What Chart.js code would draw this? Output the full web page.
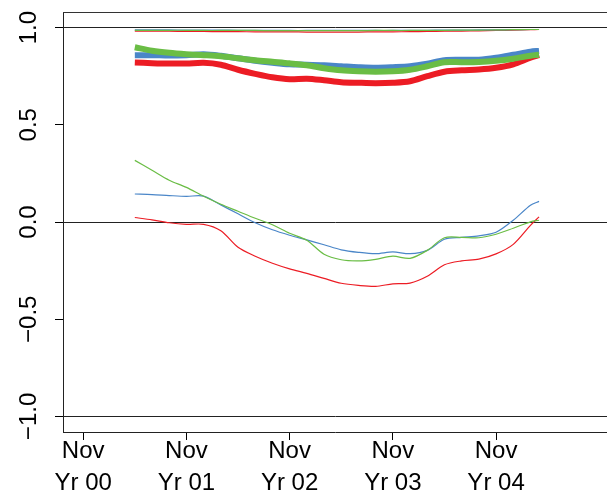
<!DOCTYPE html>
<html>
<head>
<meta charset="utf-8">
<script src="https://cdn.jsdelivr.net/npm/chart.js@4.4.1/dist/chart.umd.min.js"></script>
<style>
  html, body { margin: 0; padding: 0; background: #fff; }
  #chart { display: block; }
</style>
</head>
<body>
<canvas id="chart" width="607" height="492"></canvas>
<script>
// months since Nov Yr 00
const months = [6, 8, 10, 12, 14, 16, 18, 20, 22, 24, 26, 28, 30, 32, 34, 36, 38, 40, 42, 44, 46, 48, 50, 52, 53];

const topBlue  = [0.988, 0.988, 0.988, 0.987, 0.987, 0.987, 0.986, 0.986, 0.986, 0.985, 0.985, 0.985, 0.985, 0.985, 0.985, 0.985, 0.986, 0.986, 0.987, 0.987, 0.988, 0.988, 0.989, 0.990, 0.990];
const topGreen = [0.986, 0.986, 0.986, 0.986, 0.985, 0.985, 0.985, 0.985, 0.984, 0.984, 0.984, 0.984, 0.984, 0.984, 0.985, 0.985, 0.985, 0.986, 0.986, 0.987, 0.987, 0.988, 0.989, 0.990, 0.990];
const topRed   = [0.982, 0.981, 0.981, 0.980, 0.980, 0.979, 0.979, 0.978, 0.978, 0.978, 0.977, 0.977, 0.977, 0.977, 0.978, 0.978, 0.979, 0.980, 0.981, 0.982, 0.983, 0.985, 0.987, 0.989, 0.990];

const thickBlue  = [0.858, 0.858, 0.856, 0.858, 0.863, 0.855, 0.842, 0.829, 0.819, 0.811, 0.809, 0.806, 0.801, 0.796, 0.793, 0.796, 0.801, 0.814, 0.832, 0.834, 0.835, 0.845, 0.860, 0.876, 0.880];
const thickGreen = [0.899, 0.881, 0.870, 0.863, 0.858, 0.852, 0.842, 0.832, 0.824, 0.816, 0.806, 0.791, 0.780, 0.775, 0.773, 0.775, 0.783, 0.801, 0.822, 0.822, 0.823, 0.829, 0.840, 0.855, 0.860];
const thickRed   = [0.820, 0.817, 0.815, 0.815, 0.819, 0.809, 0.783, 0.762, 0.744, 0.734, 0.737, 0.729, 0.719, 0.716, 0.714, 0.716, 0.724, 0.750, 0.773, 0.780, 0.784, 0.793, 0.811, 0.845, 0.858];

const lowBlue  = [0.144, 0.141, 0.136, 0.132, 0.133, 0.088, 0.042, -0.004, -0.040, -0.068, -0.092, -0.117, -0.143, -0.156, -0.163, -0.154, -0.163, -0.146, -0.089, -0.079, -0.071, -0.053, 0.009, 0.086, 0.106];
const lowGreen = [0.317, 0.266, 0.215, 0.178, 0.132, 0.091, 0.055, 0.019, -0.014, -0.058, -0.094, -0.166, -0.194, -0.200, -0.192, -0.176, -0.187, -0.146, -0.081, -0.079, -0.081, -0.063, -0.032, 0.001, 0.009];
const lowRed   = [0.023, 0.011, -0.004, -0.012, -0.012, -0.045, -0.130, -0.176, -0.212, -0.241, -0.264, -0.290, -0.315, -0.326, -0.331, -0.318, -0.314, -0.279, -0.220, -0.200, -0.191, -0.164, -0.115, -0.017, 0.026];

const xTickValues = [0, 12, 24, 36, 48];
const xTickLabels = [["Nov", "Yr 00"], ["Nov", "Yr 01"], ["Nov", "Yr 02"], ["Nov", "Yr 03"], ["Nov", "Yr 04"]];
const yTickValues = [-1, -0.5, 0, 0.5, 1];
const yTickLabels = ["\u22121.0", "\u22120.5", "0.0", "0.5", "1.0"];

const RED = "#ec1c24";
const GREEN = "#6abd45";
const BLUE = "#4a86c8";
const FONT = "'Liberation Sans', Arial, Helvetica, sans-serif";

function serie(values, color, width, order) {
  return {
    data: months.map((m, i) => ({ x: m, y: values[i] })),
    borderColor: color,
    borderWidth: width,
    pointRadius: 0,
    tension: 0.3,
    fill: false,
    order: order
  };
}

// moldura (topo) e rótulos dos eixos, no estilo do R
const framePlugin = {
  id: "frame",
  afterDraw(chart) {
    const { ctx, chartArea } = chart;
    const xScale = chart.scales.x;
    const yScale = chart.scales.y;
    ctx.save();
    ctx.strokeStyle = "#333";
    ctx.lineWidth = 1;
    ctx.beginPath();
    ctx.moveTo(chartArea.left, Math.round(chartArea.top) + 0.5);
    ctx.lineTo(chartArea.right, Math.round(chartArea.top) + 0.5);
    ctx.stroke();

    ctx.fillStyle = "#000";
    ctx.font = "24px " + FONT;
    ctx.textAlign = "center";
    ctx.textBaseline = "alphabetic";

    // eixo y: rótulos girados
    yTickValues.forEach((v, i) => {
      ctx.save();
      ctx.translate(36, yScale.getPixelForValue(v));
      ctx.rotate(-Math.PI / 2);
      ctx.fillText(yTickLabels[i], 0, 0);
      ctx.restore();
    });

    // eixo x: duas linhas por marca
    const base = chartArea.bottom;
    xTickValues.forEach((v, i) => {
      const px = xScale.getPixelForValue(v);
      ctx.fillText(xTickLabels[i][0], px, base + 26);
      ctx.fillText(xTickLabels[i][1], px, base + 57.5);
    });
    ctx.restore();
  }
};

new Chart(document.getElementById("chart"), {
  type: "line",
  data: {
    datasets: [
      serie(lowRed, RED, 1.2, 9),
      serie(lowBlue, BLUE, 1.2, 8),
      serie(lowGreen, GREEN, 1.2, 7),
      serie(thickRed, RED, 6, 6),
      serie(thickBlue, BLUE, 6, 5),
      serie(thickGreen, GREEN, 6, 4),
      serie(topRed, RED, 1.2, 3),
      serie(topBlue, BLUE, 1.2, 2),
      serie(topGreen, GREEN, 1.2, 1)
    ]
  },
  options: {
    responsive: false,
    animation: false,
    layout: { padding: { top: 12, left: 0, right: 0, bottom: 0 } },
    plugins: {
      legend: { display: false },
      tooltip: { enabled: false }
    },
    scales: {
      x: {
        type: "linear",
        min: -2.35,
        max: 60.9,
        afterBuildTicks: (scale) => { scale.ticks = xTickValues.map(v => ({ value: v })); },
        afterFit: (scale) => { scale.height = 60; },
        grid: { drawOnChartArea: false, drawTicks: true, tickLength: 8, tickColor: "#000" },
        border: { display: true, color: "#222", width: 1 },
        ticks: { display: false }
      },
      y: {
        type: "linear",
        min: -1.08,
        max: 1.08,
        afterBuildTicks: (scale) => { scale.ticks = yTickValues.map(v => ({ value: v })); },
        afterFit: (scale) => { scale.width = 63; },
        grid: {
          drawTicks: true,
          tickLength: 8,
          tickColor: "#000",
          color: (c) => (c.tick && Math.abs(c.tick.value % 1) < 1e-9) ? "#222" : "rgba(0,0,0,0)",
          lineWidth: 1
        },
        border: { display: true, color: "#222", width: 1 },
        ticks: { display: false }
      }
    }
  },
  plugins: [framePlugin]
});
</script>
</body>
</html>
